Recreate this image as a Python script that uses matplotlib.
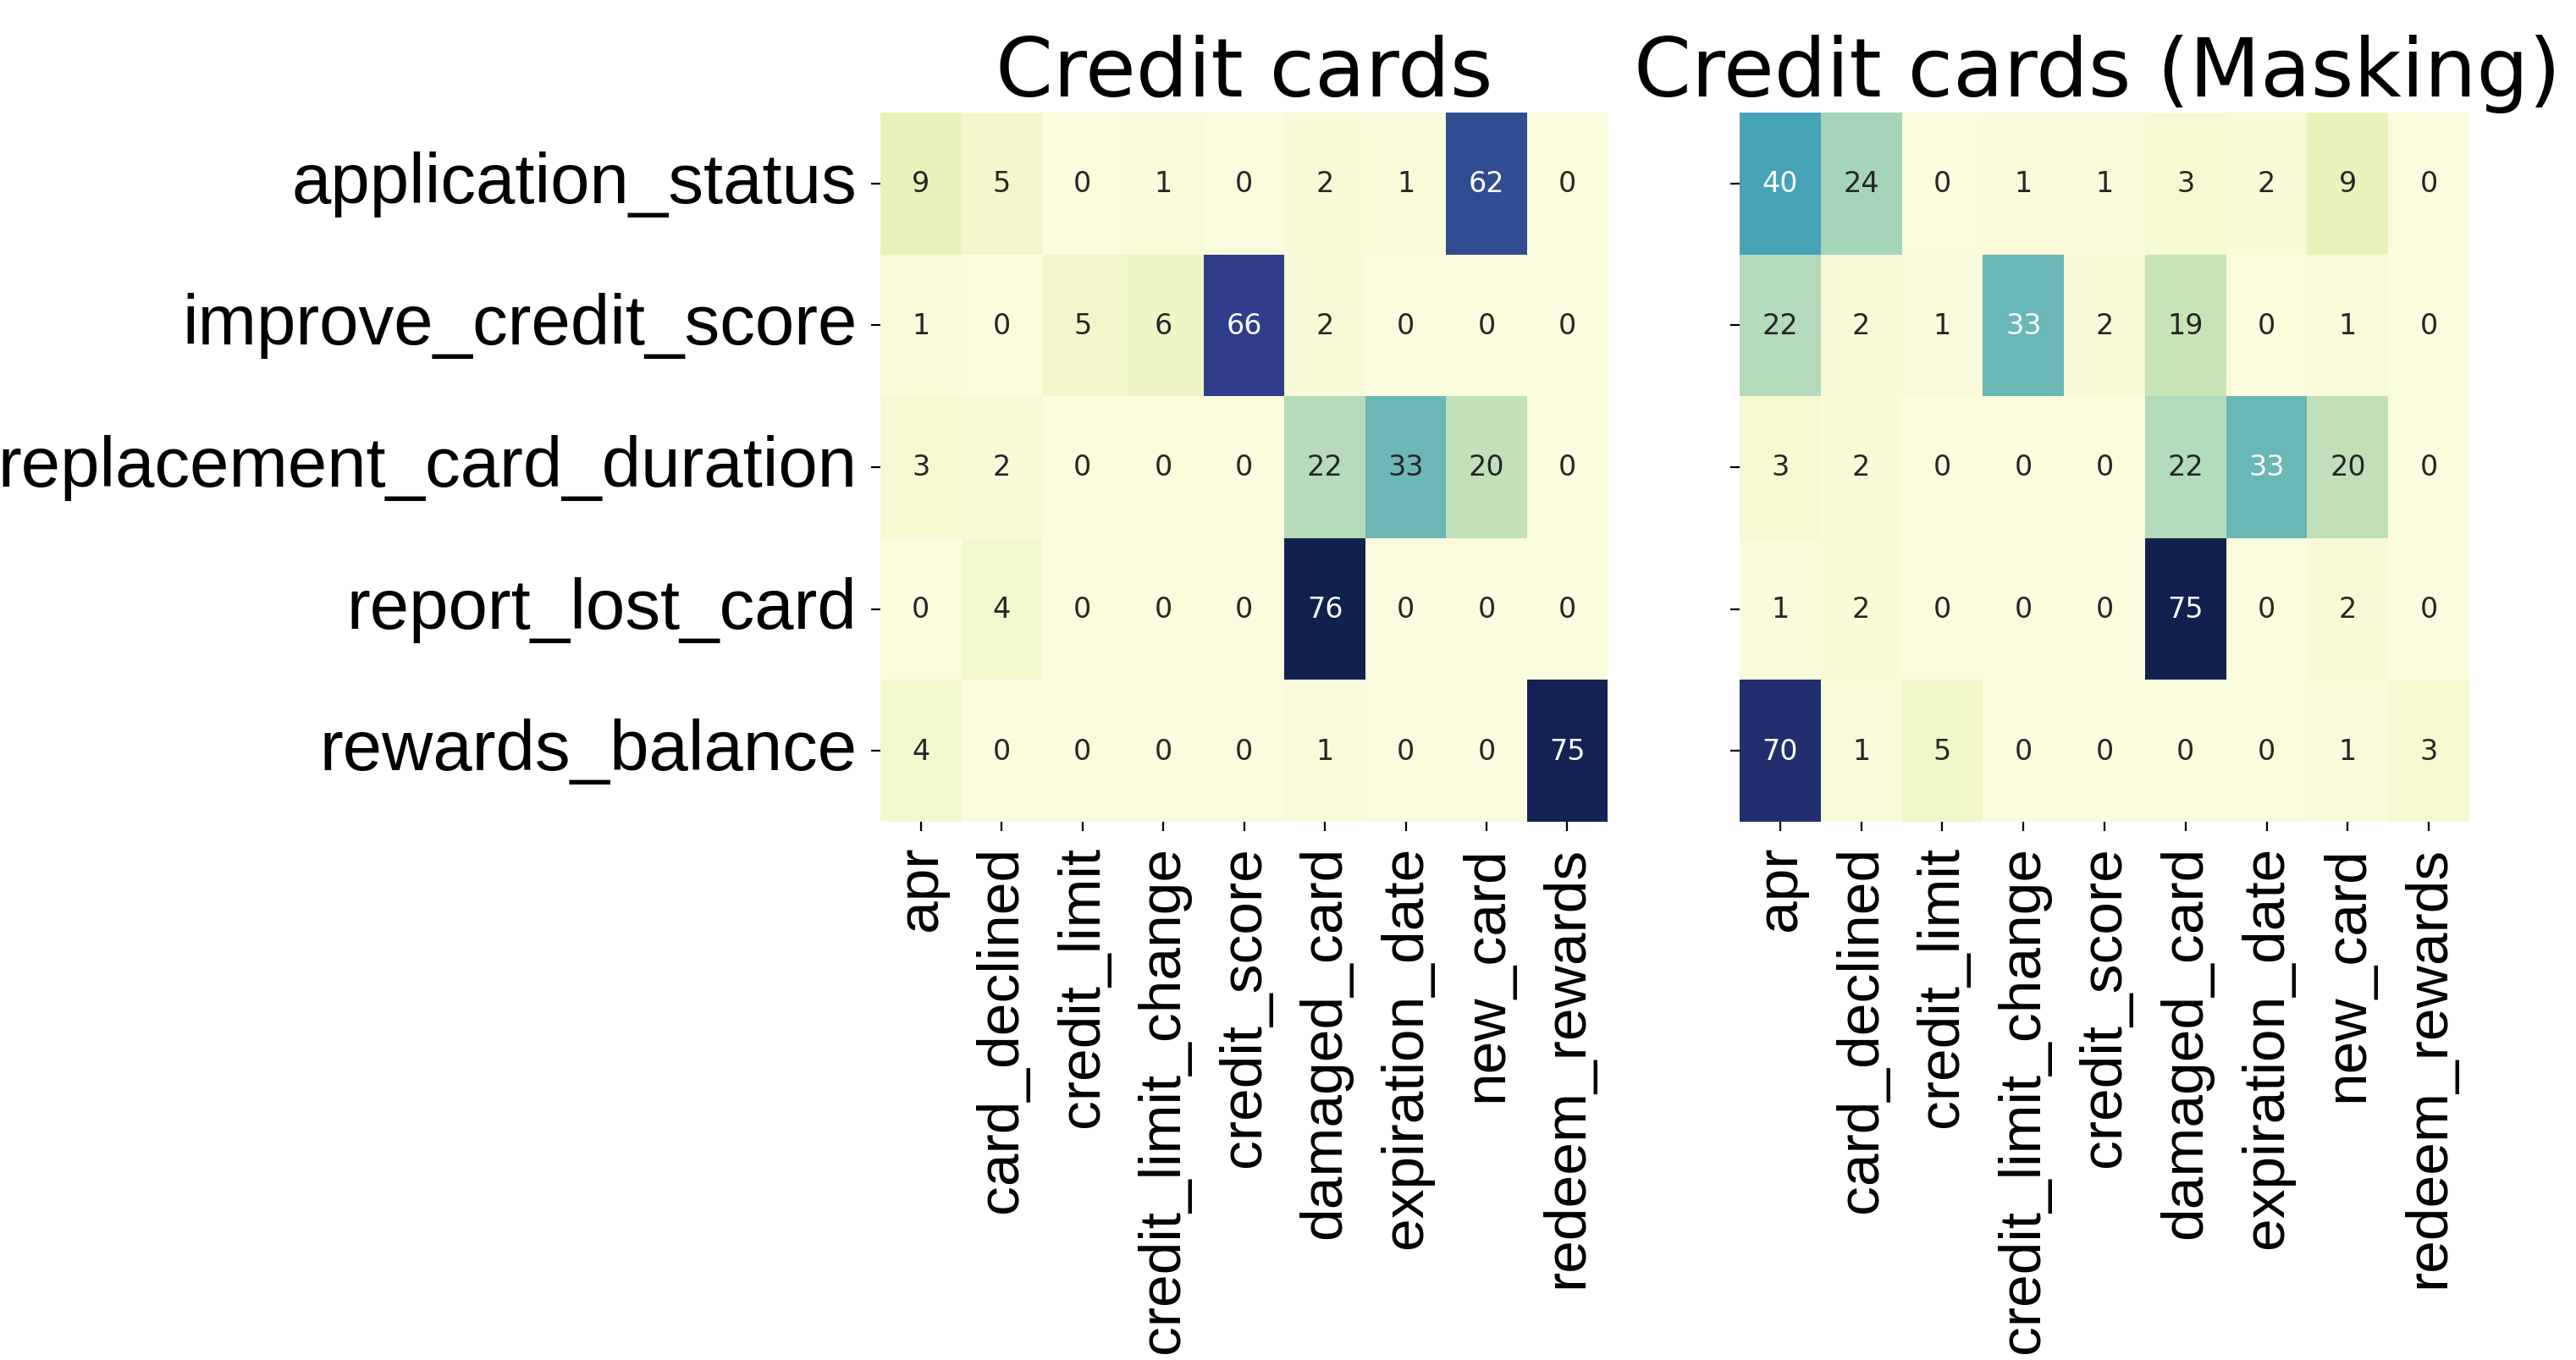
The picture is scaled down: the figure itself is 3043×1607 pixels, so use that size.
import numpy as np
import matplotlib
matplotlib.use("Agg")
import matplotlib.pyplot as plt
from matplotlib.colors import ListedColormap
import seaborn as sns

# Intents (rows) and predicted labels (columns)
rows = ["application_status", "improve_credit_score", "replacement_card_duration",
        "report_lost_card", "rewards_balance"]
cols = ["apr", "card_declined", "credit_limit", "credit_limit_change", "credit_score",
        "damaged_card", "expiration_date", "new_card", "redeem_rewards"]

plain = [
    [9, 5, 0, 1, 0, 2, 1, 62, 0],
    [1, 0, 5, 6, 66, 2, 0, 0, 0],
    [3, 2, 0, 0, 0, 22, 33, 20, 0],
    [0, 4, 0, 0, 0, 76, 0, 0, 0],
    [4, 0, 0, 0, 0, 1, 0, 0, 75],
]
masking = [
    [40, 24, 0, 1, 1, 3, 2, 9, 0],
    [22, 2, 1, 33, 2, 19, 0, 1, 0],
    [3, 2, 0, 0, 0, 22, 33, 20, 0],
    [1, 2, 0, 0, 0, 75, 0, 2, 0],
    [70, 1, 5, 0, 0, 0, 0, 1, 3],
]
titles = ["Credit cards", "Credit cards (Masking)"]

# slightly muted YlGnBu, like the reference
cmap = ListedColormap(sns.color_palette("YlGnBu", 256, desat=0.8))

fig = plt.figure(figsize=(15.215, 8.04), dpi=200)
ax1 = fig.add_axes([0.3418, 0.3955, 0.2823, 0.5212])
ax2 = fig.add_axes([0.6753, 0.3955, 0.2833, 0.5212])

for ax, data, title, tx in zip([ax1, ax2], [plain, masking], titles, [0.5, 0.49]):
    sns.heatmap(np.array(data), ax=ax, annot=True, fmt="d", cmap=cmap,
                cbar=False, annot_kws={"size": 12})
    ax.set_title(title, fontsize=35, pad=1.5, x=tx)
    ax.set_xticks(np.arange(len(cols)) + 0.5)
    ax.set_xticklabels(cols, rotation=90, fontsize=25, family="Liberation Sans")
    ax.set_yticks(np.arange(len(rows)) + 0.5)
    ax.tick_params(axis="both", length=4, pad=6)

ax1.set_yticklabels(rows, rotation=0, fontsize=30, family="Liberation Sans")
ax2.set_yticklabels([])

fig.savefig("out.png", dpi=200)
